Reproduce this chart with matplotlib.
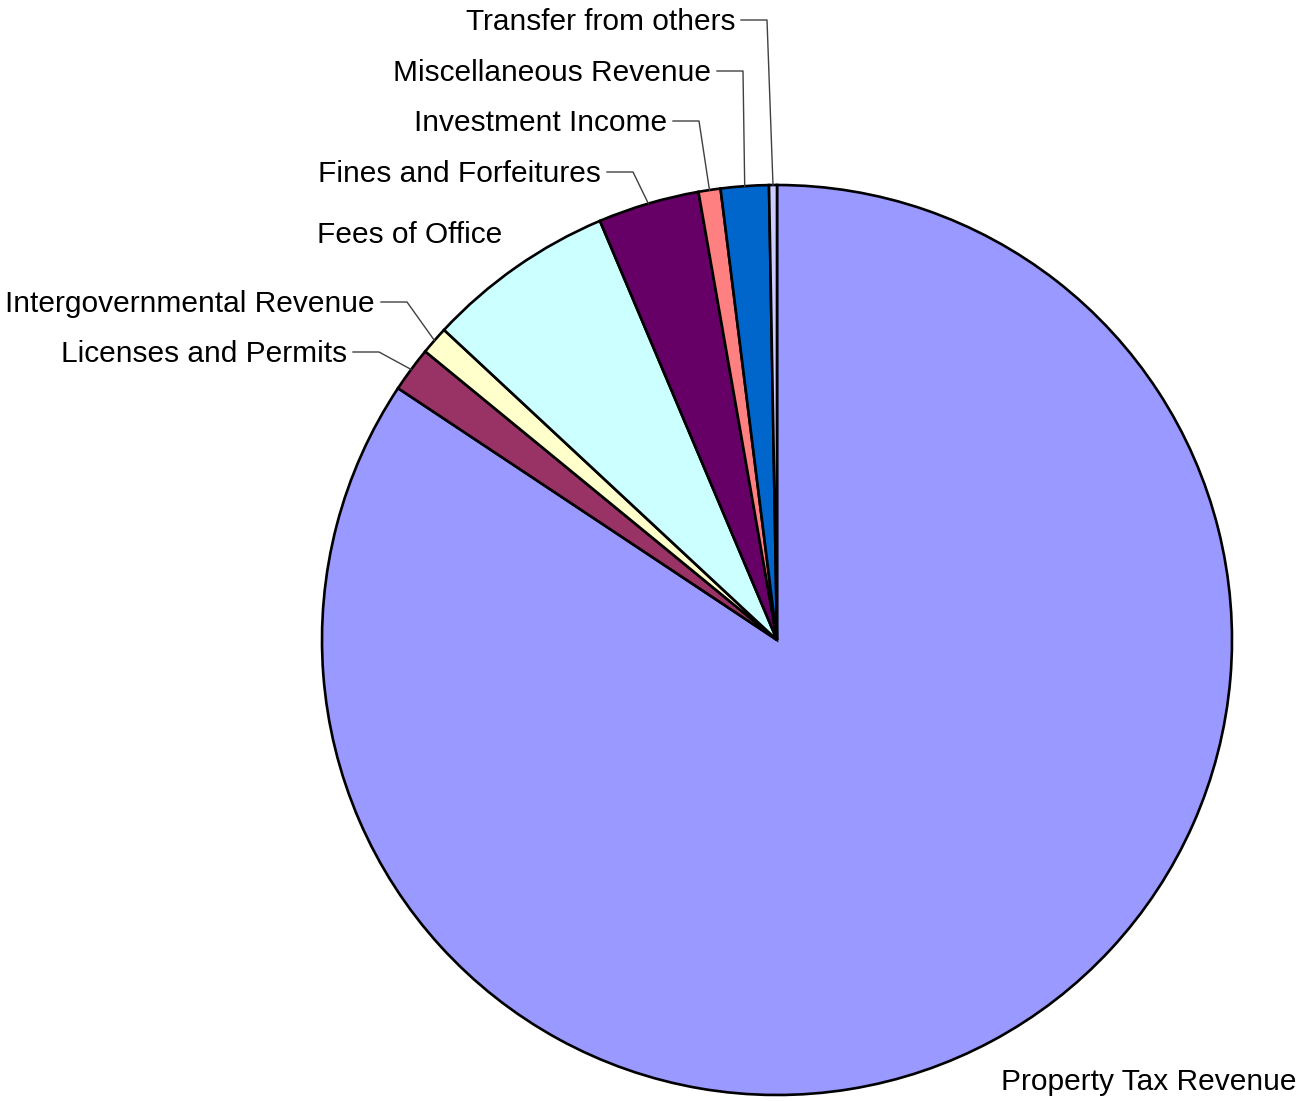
import matplotlib.pyplot as plt
import numpy as np

plt.rcParams['font.family'] = ['Liberation Sans', 'DejaVu Sans']

categories = ['Property Tax Revenue', 'Licenses and Permits', 'Intergovernmental Revenue',
              'Fees of Office', 'Fines and Forfeitures', 'Investment Income',
              'Miscellaneous Revenue', 'Transfer from others']
shares = [84.3, 1.6, 1.0, 6.7, 3.6, 0.78, 1.7, 0.28]
colors = ['#9999FF', '#993366', '#FFFFCC', '#CCFFFF', '#660066', '#FF8080', '#0066CC', '#CCCCFF']

W, H = 1304, 1101
fig = plt.figure(figsize=(W / 100, H / 100), dpi=100)
ax = fig.add_axes([0, 0, 1, 1])

cx, cy, r = 777, 640, 455
# y axis is inverted, so counterclock=True draws clockwise on screen
wedges, _ = ax.pie(shares, colors=colors, startangle=-90, counterclock=True,
                   center=(cx, cy), radius=r, frame=True,
                   wedgeprops=dict(edgecolor='black', linewidth=1.9))
ax.set_xlim(0, W)
ax.set_ylim(H, 0)
ax.set_aspect('equal')
ax.axis('off')

# label anchors: (x, y, ha, leader)
label_pos = {
    'Property Tax Revenue': (1001, 1082, 'left', False),
    'Licenses and Permits': (347, 354, 'right', True),
    'Intergovernmental Revenue': (375, 304, 'right', True),
    'Fees of Office': (502, 235, 'right', False),
    'Fines and Forfeitures': (601, 174, 'right', True),
    'Investment Income': (667, 123, 'right', True),
    'Miscellaneous Revenue': (711, 73, 'right', True),
    'Transfer from others': (735, 22, 'right', True),
}

for w, name in zip(wedges, categories):
    x, y, ha, leader = label_pos[name]
    ax.text(x, y, name, ha=ha, va='center', fontsize=21.5, color='black')
    if leader:
        mid = np.deg2rad((w.theta1 + w.theta2) / 2)
        ex = cx + r * np.cos(mid)
        ey = cy + r * np.sin(mid)
        yl = y - 2
        ax.plot([x + 6, x + 32, ex], [yl, yl, ey], color='#404040', linewidth=1.0)

fig.savefig('out.png', dpi=100)
